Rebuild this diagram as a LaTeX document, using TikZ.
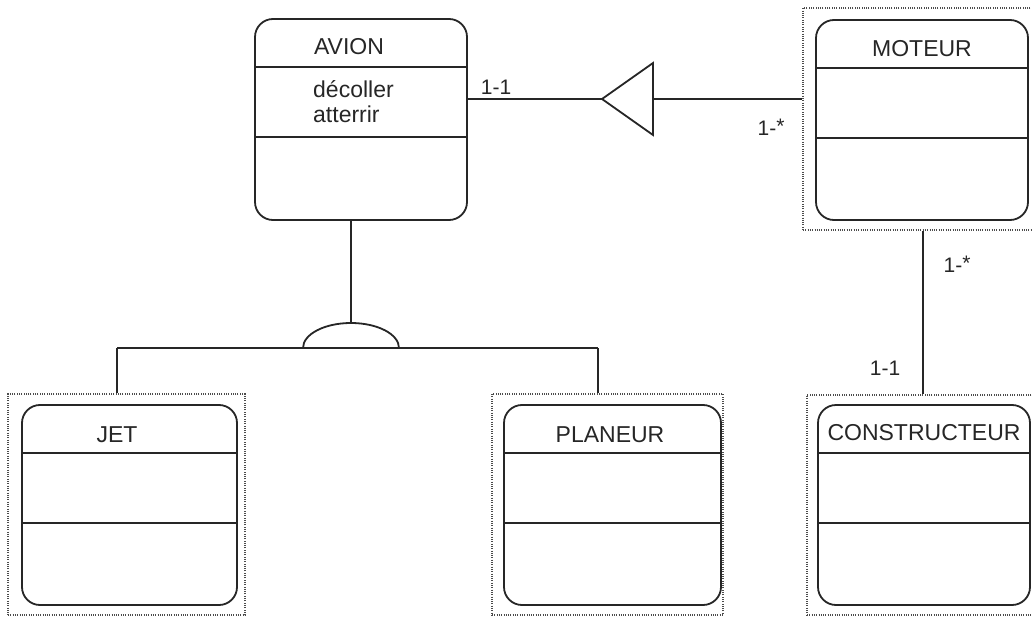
\documentclass[tikz,border=0pt]{standalone}
\usepackage{fontspec}
\setmainfont{Liberation Sans}
\begin{document}
\begin{tikzpicture}[x=1pt,y=-1pt,
  ink/.style={draw=black!85,line width=1.8pt},
  classbox/.style={ink,rounded corners=18pt,rectangle,inner sep=0pt,minimum height=200pt},
  frame/.style={draw=black!70,line width=1.2pt,dash pattern=on 1pt off 1.3pt,rectangle,inner sep=0pt},
  lbl/.style={text=black!85,font=\fontsize{23}{26}\selectfont,inner sep=0pt,anchor=center},
  card/.style={text=black!85,font=\fontsize{21}{24}\selectfont,inner sep=0pt,anchor=center}]
\useasboundingbox (0,0) rectangle (1032,617);

% dotted frames
\node[frame,minimum width=237pt,minimum height=221pt] (jframe) at (126.5,504.5) {};
\node[frame,minimum width=231pt,minimum height=221pt] (pframe) at (607.5,504.5) {};
\node[frame,minimum width=235pt,minimum height=222pt] (mframe) at (920.5,119) {};
\node[frame,minimum width=231pt,minimum height=220pt] (cframe) at (922.5,505) {};

% class boxes
\node[classbox,minimum width=212pt,minimum height=201pt] (avion) at (361,119.5) {};
\node[classbox,minimum width=212pt] (moteur) at (922,120) {};
\node[classbox,minimum width=215pt] (jet) at (129.5,505) {};
\node[classbox,minimum width=217pt] (planeur) at (612.5,505) {};
\node[classbox,minimum width=212pt] (constr) at (924,505) {};

% compartment lines
\draw[ink] (avion.west |- 0,67) -- (avion.east |- 0,67);
\draw[ink] (avion.west |- 0,137) -- (avion.east |- 0,137);
\draw[ink] (moteur.west |- 0,68) -- (moteur.east |- 0,68);
\draw[ink] (moteur.west |- 0,138) -- (moteur.east |- 0,138);
\foreach \b in {jet,planeur,constr}{
  \draw[ink] (\b.west |- 0,453) -- (\b.east |- 0,453);
  \draw[ink] (\b.west |- 0,523) -- (\b.east |- 0,523);
}

% class names and operations
\node[lbl] (tavion) at (349,47) {AVION};
\node[lbl,anchor=north west,align=left,font=\fontsize{23}{25}\selectfont] (ops) at (313,80) {décoller\\atterrir};
\node[lbl] (tmoteur) at (922,49) {MOTEUR};
\node[lbl] (tjet) at (117,435) {JET};
\node[lbl] (tplaneur) at (610,435) {PLANEUR};
\node[lbl] (tconstr) at (924,433) {CONSTRUCTEUR};

% aggregation between AVION and MOTEUR
\coordinate (tip) at (602,99);
\coordinate (base) at (653,99);
\draw[ink] (tip -| avion.east) -- (tip);
\draw[ink,line join=miter] (tip) -- (653,63) -- (653,135) -- cycle;
\draw[ink] (base) -- (base -| mframe.west);
\node[card] (c11a) at (496,87) {1-1};
\node[card] (c1na) at (771,127) {1-\raisebox{2pt}{*}};

% generalisation AVION -> JET, PLANEUR
\coordinate (arctop) at (351,323);
\coordinate (jtop) at (117,348);
\coordinate (ptop) at (598,348);
\draw[ink] (arctop |- avion.south) -- (arctop);
\draw[ink] (303,348) arc[start angle=180,end angle=0,x radius=48,y radius=-25];
\draw[ink] (jtop) -- (ptop);
\draw[ink] (jtop) -- (jtop |- jframe.north);
\draw[ink] (ptop) -- (ptop |- pframe.north);

% association MOTEUR -- CONSTRUCTEUR
\coordinate (mc) at (923,230);
\draw[ink] (mc |- mframe.south) -- (mc |- cframe.north);
\node[card] (c1nb) at (957,264) {1-\raisebox{2pt}{*}};
\node[card] (c11b) at (885,368) {1-1};
\end{tikzpicture}
\end{document}
